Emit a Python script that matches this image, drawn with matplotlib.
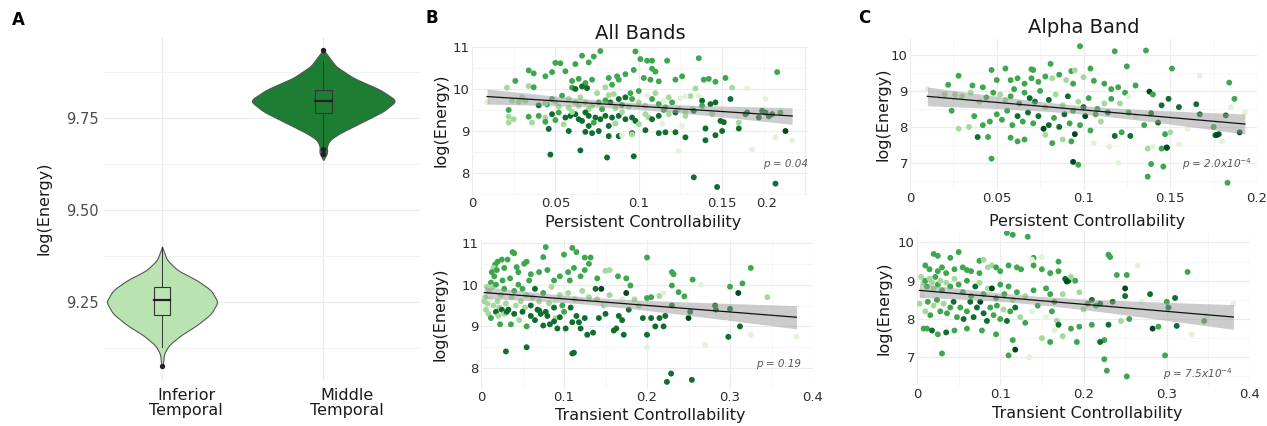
import numpy as np
import matplotlib
matplotlib.use("Agg")
import matplotlib.pyplot as plt
from matplotlib import transforms

plt.rcParams['font.family'] = ['DejaVu Sans']

# ---------------- data ----------------
# Panel A: violin outlines (log energy level, half width in category units)
inf_levels = [9.400, 9.364, 9.336, 9.309, 9.282, 9.250, 9.218, 9.186, 9.159, 9.132, 9.109, 9.082, 9.073]
inf_halfw = [0.0, 0.031, 0.097, 0.217, 0.304, 0.346, 0.304, 0.213, 0.114, 0.041, 0.012, 0.006, 0.0]
mid_levels = [9.936, 9.918, 9.891, 9.859, 9.827, 9.800, 9.795, 9.768, 9.736, 9.709, 9.691, 9.673, 9.655, 9.636]
mid_halfw = [0.0, 0.031, 0.077, 0.186, 0.352, 0.445, 0.449, 0.373, 0.228, 0.104, 0.041, 0.021, 0.025, 0.0]
# box stats: whisker low, q1, median, q3, whisker high
inf_box = [9.127, 9.214, 9.255, 9.291, 9.400]
mid_box = [9.655, 9.764, 9.795, 9.825, 9.905]
inf_outliers = [9.075]
mid_outliers = [9.936, 9.665, 9.652]
regions = ["Inferior\nTemporal", "Middle\nTemporal"]

# Panel B top: persistent controllability vs log energy (all bands), shade level
bt = [
    (0.077, 10.90, 2), (0.098, 10.89, 2), (0.073, 10.77, 2), (0.066, 10.79, 2), (0.101, 10.71, 2),
    (0.105, 10.67, 2), (0.108, 10.67, 2), (0.117, 10.67, 2), (0.136, 10.73, 2), (0.070, 10.63, 2),
    (0.050, 10.62, 2), (0.053, 10.61, 2), (0.062, 10.59, 2), (0.034, 10.44, 2), (0.037, 10.37, 2),
    (0.056, 10.42, 2), (0.048, 10.40, 2), (0.044, 10.30, 2), (0.097, 10.45, 2), (0.108, 10.48, 2),
    (0.092, 10.35, 2), (0.087, 10.30, 2), (0.026, 10.19, 2), (0.021, 10.03, 1), (0.034, 10.07, 1),
    (0.037, 10.04, 2), (0.060, 10.19, 2), (0.064, 10.24, 2), (0.068, 10.14, 2), (0.072, 10.22, 2),
    (0.060, 10.03, 2), (0.066, 10.06, 3), (0.069, 10.02, 3), (0.062, 10.00, 3), (0.082, 10.26, 2),
    (0.084, 10.10, 2), (0.088, 10.22, 2), (0.080, 10.04, 1), (0.103, 10.26, 2), (0.107, 10.22, 2),
    (0.110, 10.41, 2), (0.112, 10.18, 2), (0.122, 10.22, 2), (0.126, 10.30, 2), (0.139, 10.22, 2),
    (0.142, 10.24, 2), (0.152, 10.26, 2), (0.146, 10.17, 2), (0.156, 10.03, 1), (0.165, 10.01, 0),
    (0.183, 10.40, 2), (0.134, 10.01, 1), (0.131, 9.83, 1), (0.128, 9.83, 0), (0.136, 9.83, 0),
    (0.176, 9.76, 0), (0.009, 9.68, 0),
    (0.024, 9.72, 1), (0.028, 9.69, 1), (0.032, 9.72, 1), (0.022, 9.50, 2), (0.040, 9.61, 3),
    (0.045, 9.63, 2), (0.048, 9.76, 2), (0.054, 9.84, 2), (0.058, 9.76, 1), (0.062, 9.68, 1),
    (0.064, 9.60, 1), (0.068, 9.68, 1), (0.072, 9.60, 1), (0.076, 9.68, 2), (0.080, 9.73, 2),
    (0.083, 9.68, 3), (0.088, 9.76, 3), (0.092, 9.80, 3), (0.096, 9.76, 2), (0.100, 9.68, 1),
    (0.104, 9.60, 1), (0.108, 9.76, 2), (0.112, 9.64, 2), (0.116, 9.56, 2), (0.120, 9.68, 2),
    (0.124, 9.52, 1), (0.128, 9.45, 1), (0.132, 9.52, 1), (0.138, 9.72, 3), (0.143, 9.64, 3),
    (0.146, 9.68, 3), (0.155, 9.76, 3), (0.165, 9.44, 3), (0.174, 9.48, 3), (0.176, 9.44, 3),
    (0.180, 9.40, 3), (0.185, 9.44, 2), (0.058, 9.55, 1), (0.052, 9.58, 1), (0.070, 9.52, 1),
    (0.086, 9.54, 1), (0.095, 9.90, 2), (0.100, 9.95, 2), (0.075, 9.90, 1), (0.085, 9.88, 1),
    (0.110, 9.90, 1), (0.118, 9.80, 1), (0.065, 9.80, 1), (0.090, 9.62, 2), (0.094, 9.58, 1),
    (0.078, 9.52, 2), (0.082, 9.85, 1), (0.105, 9.85, 0), (0.115, 9.72, 0), (0.125, 9.78, 0),
    (0.030, 9.80, 1), (0.044, 9.66, 1), (0.050, 9.70, 1),
    (0.040, 9.36, 2), (0.044, 9.32, 1), (0.048, 9.40, 3), (0.052, 9.44, 2), (0.056, 9.32, 3),
    (0.059, 9.36, 3), (0.062, 9.40, 3), (0.064, 9.28, 3), (0.066, 9.24, 3), (0.068, 9.44, 3),
    (0.070, 9.36, 3), (0.074, 9.32, 3), (0.077, 9.28, 3), (0.080, 9.36, 3), (0.084, 9.32, 3),
    (0.088, 9.36, 3), (0.092, 9.28, 3), (0.096, 9.32, 3), (0.098, 9.24, 3), (0.104, 9.40, 1),
    (0.106, 9.32, 1), (0.108, 9.28, 3), (0.112, 9.36, 3), (0.118, 9.40, 1), (0.122, 9.44, 3),
    (0.128, 9.36, 1), (0.133, 9.48, 3), (0.138, 9.60, 2), (0.144, 9.40, 1), (0.149, 9.24, 3),
    (0.151, 9.21, 3), (0.164, 9.40, 3), (0.172, 9.32, 3), (0.178, 9.35, 3), (0.022, 9.34, 1),
    (0.025, 9.28, 1), (0.022, 9.20, 1), (0.034, 9.34, 2), (0.036, 9.20, 1), (0.044, 9.22, 2),
    (0.050, 9.26, 2), (0.055, 9.16, 1), (0.073, 9.20, 2), (0.086, 9.18, 1), (0.100, 9.16, 1),
    (0.114, 9.18, 0), (0.126, 9.12, 0), (0.140, 9.08, 0), (0.160, 9.20, 1), (0.060, 9.45, 1),
    (0.090, 9.45, 1), (0.115, 9.50, 2), (0.070, 9.12, 3), (0.082, 9.12, 3),
    (0.046, 9.05, 3), (0.058, 9.00, 3), (0.068, 8.98, 3), (0.072, 8.95, 3), (0.076, 9.00, 3),
    (0.082, 8.88, 3), (0.088, 8.88, 3), (0.096, 8.95, 3), (0.104, 9.02, 3), (0.112, 8.95, 3),
    (0.116, 8.97, 3), (0.122, 8.97, 3), (0.128, 8.85, 3), (0.140, 9.06, 3), (0.146, 8.90, 3),
    (0.150, 9.00, 3), (0.160, 9.06, 3), (0.188, 9.00, 4), (0.182, 8.85, 0), (0.192, 8.78, 0),
    (0.090, 8.90, 0), (0.096, 8.92, 1), (0.124, 8.52, 0), (0.140, 8.78, 3), (0.168, 8.56, 0),
    (0.047, 8.44, 3), (0.065, 8.54, 3), (0.081, 8.37, 3), (0.097, 8.40, 3), (0.133, 7.90, 3),
    (0.147, 7.67, 3), (0.182, 7.75, 3),
]

# Panel B bottom: transient controllability vs log energy (all bands)
bb = [
    (0.038, 10.78, 2), (0.040, 10.75, 2), (0.078, 10.90, 2), (0.075, 10.66, 2), (0.110, 10.88, 2),
    (0.115, 10.78, 2), (0.100, 10.72, 2), (0.125, 10.65, 2), (0.132, 10.65, 2), (0.055, 10.55, 2),
    (0.052, 10.50, 2), (0.043, 10.42, 2), (0.028, 10.40, 2), (0.020, 10.55, 2), (0.017, 10.48, 2),
    (0.025, 10.60, 2), (0.032, 10.60, 2), (0.015, 10.40, 1), (0.045, 10.30, 2), (0.060, 10.25, 2),
    (0.070, 10.30, 2), (0.080, 10.35, 2), (0.088, 10.10, 2), (0.095, 10.20, 2), (0.105, 10.30, 2),
    (0.107, 10.10, 2), (0.112, 10.40, 2), (0.120, 10.20, 2), (0.125, 10.35, 2), (0.130, 10.50, 2),
    (0.140, 10.15, 2), (0.150, 10.33, 1), (0.155, 10.35, 1), (0.165, 10.20, 2), (0.175, 10.15, 2),
    (0.180, 9.98, 2), (0.200, 10.65, 2), (0.230, 10.30, 2), (0.232, 10.25, 2), (0.255, 10.12, 2),
    (0.265, 10.00, 0), (0.300, 9.95, 2), (0.315, 10.03, 2), (0.325, 10.40, 2), (0.230, 9.98, 2),
    (0.238, 9.82, 2), (0.245, 9.72, 2), (0.200, 9.68, 2), (0.205, 9.70, 2), (0.215, 9.73, 1),
    (0.220, 9.80, 0),
    (0.005, 9.70, 1), (0.008, 9.55, 1), (0.010, 9.85, 1), (0.012, 10.05, 2), (0.014, 9.95, 1),
    (0.016, 10.20, 2), (0.018, 10.00, 2), (0.020, 9.60, 1), (0.022, 9.45, 1), (0.024, 9.75, 1),
    (0.026, 10.10, 2), (0.028, 9.90, 2), (0.030, 9.55, 1), (0.033, 9.40, 3), (0.035, 10.15, 2),
    (0.037, 9.70, 1), (0.040, 9.85, 2), (0.042, 9.50, 1), (0.045, 10.00, 2), (0.048, 9.60, 1),
    (0.050, 9.90, 2), (0.053, 9.45, 1), (0.055, 9.75, 1), (0.058, 10.10, 2), (0.006, 9.40, 1),
    (0.009, 9.30, 1), (0.012, 9.20, 2), (0.015, 9.50, 1), (0.018, 9.35, 3), (0.021, 9.25, 1),
    (0.025, 9.40, 3), (0.028, 9.30, 1), (0.004, 9.60, 1), (0.007, 9.95, 1), (0.011, 9.65, 0),
    (0.013, 10.30, 2), (0.019, 10.35, 2), (0.023, 9.05, 2), (0.031, 9.35, 3), (0.036, 9.05, 2),
    (0.040, 9.30, 3), (0.046, 9.15, 1), (0.050, 9.35, 3), (0.055, 9.00, 2), (0.060, 9.50, 3),
    (0.062, 9.70, 1), (0.065, 9.90, 3), (0.068, 9.40, 3), (0.070, 9.60, 1), (0.072, 9.30, 3),
    (0.075, 9.80, 2), (0.078, 9.35, 3), (0.080, 9.25, 3), (0.082, 9.55, 1), (0.085, 9.95, 1),
    (0.088, 9.45, 3), (0.090, 9.20, 1), (0.092, 8.95, 3), (0.095, 9.75, 1), (0.098, 9.50, 2),
    (0.100, 9.35, 2), (0.102, 8.95, 3), (0.105, 9.80, 1), (0.108, 9.45, 3), (0.110, 9.10, 3),
    (0.113, 9.65, 1), (0.115, 9.25, 3), (0.118, 9.10, 3), (0.120, 8.95, 3), (0.122, 9.85, 1),
    (0.125, 9.20, 3), (0.128, 8.80, 3), (0.130, 9.70, 1), (0.135, 8.85, 3), (0.138, 9.90, 3),
    (0.140, 9.65, 1), (0.142, 9.20, 3), (0.145, 9.90, 4), (0.148, 9.50, 1), (0.150, 9.30, 3),
    (0.155, 9.75, 1), (0.160, 8.90, 3), (0.163, 8.95, 3), (0.166, 9.25, 3), (0.170, 9.15, 3),
    (0.172, 8.80, 3), (0.175, 9.80, 4), (0.178, 9.40, 3), (0.185, 9.65, 1), (0.190, 9.50, 1),
    (0.195, 9.20, 3), (0.200, 8.80, 3), (0.200, 8.50, 0), (0.205, 9.20, 3), (0.210, 9.00, 3),
    (0.215, 9.20, 3), (0.220, 9.00, 3), (0.222, 9.25, 3), (0.230, 9.50, 3), (0.250, 9.20, 4),
    (0.252, 9.35, 3), (0.270, 8.55, 0), (0.282, 9.50, 3), (0.283, 9.40, 3), (0.298, 8.75, 3),
    (0.300, 9.42, 3), (0.310, 9.80, 4), (0.312, 9.00, 3), (0.325, 8.80, 0), (0.345, 9.70, 1),
    (0.380, 8.75, 0), (0.030, 8.40, 3), (0.055, 8.50, 3), (0.110, 8.35, 3), (0.112, 8.37, 3),
    (0.224, 7.67, 3), (0.229, 7.87, 3), (0.254, 7.72, 3),
    (0.060, 9.25, 3), (0.065, 9.15, 3), (0.070, 9.38, 3), (0.075, 9.02, 3), (0.083, 9.05, 3),
    (0.088, 9.12, 3), (0.095, 9.22, 3), (0.090, 9.60, 0), (0.120, 9.60, 0), (0.150, 9.55, 0),
    (0.170, 9.65, 0),
]

# Panel C top: persistent controllability vs log energy (alpha band)
ct = [
    (0.098, 10.24, 2), (0.118, 10.10, 2), (0.136, 10.12, 2), (0.093, 9.55, 2), (0.055, 9.62, 2),
    (0.047, 9.58, 2), (0.071, 9.58, 2), (0.081, 9.75, 2), (0.070, 9.60, 2), (0.095, 9.57, 1),
    (0.104, 9.62, 2), (0.125, 9.68, 2), (0.151, 9.62, 2), (0.022, 9.17, 2), (0.028, 9.42, 2),
    (0.036, 9.15, 2), (0.042, 9.10, 2), (0.050, 9.30, 2), (0.058, 9.30, 2), (0.062, 9.35, 2),
    (0.066, 9.20, 2), (0.070, 9.35, 2), (0.074, 9.25, 2), (0.078, 9.40, 2), (0.082, 9.35, 1),
    (0.086, 9.45, 2), (0.090, 9.30, 1), (0.094, 9.20, 2), (0.100, 9.38, 1), (0.106, 9.28, 2),
    (0.112, 9.20, 2), (0.116, 9.05, 2), (0.120, 9.10, 2), (0.124, 8.95, 2), (0.130, 9.15, 2),
    (0.138, 8.98, 4), (0.140, 8.90, 2), (0.149, 8.78, 3), (0.165, 8.63, 3), (0.167, 9.42, 0),
    (0.184, 9.23, 2), (0.187, 8.78, 2), (0.030, 8.85, 1), (0.035, 8.95, 1), (0.040, 8.70, 1),
    (0.044, 8.82, 2), (0.048, 8.95, 2), (0.052, 8.90, 1), (0.055, 8.75, 1), (0.058, 8.85, 2),
    (0.060, 9.05, 2), (0.063, 8.65, 2), (0.066, 8.95, 2), (0.069, 8.80, 3), (0.072, 8.70, 3),
    (0.075, 9.00, 2), (0.078, 8.55, 1), (0.080, 8.75, 3), (0.084, 8.90, 1), (0.088, 8.60, 1),
    (0.091, 8.85, 3), (0.094, 8.45, 2), (0.097, 8.70, 1), (0.100, 8.55, 3), (0.103, 8.80, 2),
    (0.108, 8.50, 2), (0.112, 8.65, 1), (0.116, 8.78, 2), (0.121, 8.65, 1), (0.126, 8.85, 0),
    (0.145, 8.60, 3), (0.155, 8.55, 3), (0.167, 8.35, 3), (0.182, 8.32, 3), (0.175, 8.00, 2),
    (0.178, 7.80, 3), (0.176, 7.77, 3), (0.190, 7.85, 4), (0.177, 7.78, 4), (0.024, 8.45, 2),
    (0.034, 8.00, 1), (0.037, 8.30, 2), (0.042, 8.05, 2), (0.046, 8.15, 2), (0.050, 8.35, 2),
    (0.053, 8.20, 2), (0.056, 8.45, 2), (0.059, 8.05, 2), (0.062, 8.30, 3), (0.065, 8.15, 2),
    (0.068, 8.40, 3), (0.071, 8.10, 2), (0.074, 8.30, 3), (0.077, 7.95, 4), (0.080, 8.05, 3),
    (0.083, 8.25, 2), (0.086, 8.00, 3), (0.089, 8.35, 3), (0.092, 8.10, 2), (0.095, 7.80, 4),
    (0.098, 8.05, 2), (0.101, 8.30, 4), (0.104, 7.90, 2), (0.107, 8.35, 2), (0.110, 8.15, 1),
    (0.114, 8.40, 3), (0.118, 7.75, 3), (0.122, 7.85, 2), (0.126, 8.40, 2), (0.130, 8.30, 0),
    (0.135, 8.05, 2), (0.139, 8.38, 3), (0.143, 8.12, 3), (0.147, 7.80, 2), (0.150, 7.85, 1),
    (0.155, 7.52, 0), (0.160, 7.95, 0), (0.039, 7.72, 3), (0.045, 7.72, 2), (0.058, 7.70, 2),
    (0.062, 7.60, 2), (0.066, 7.65, 2), (0.078, 7.78, 1), (0.082, 7.55, 2), (0.088, 7.65, 1),
    (0.093, 7.60, 2), (0.106, 7.55, 0), (0.115, 7.45, 0), (0.127, 7.75, 3), (0.137, 7.40, 1),
    (0.140, 7.45, 0), (0.145, 7.40, 2), (0.148, 7.42, 3), (0.047, 7.12, 2), (0.094, 7.03, 4),
    (0.097, 6.95, 2), (0.137, 6.62, 2), (0.139, 6.97, 2), (0.146, 6.90, 2), (0.148, 7.43, 4),
    (0.183, 6.45, 2), (0.120, 7.00, 0), (0.180, 7.60, 0), (0.185, 8.55, 0), (0.193, 8.40, 0),
    (0.010, 9.05, 0), (0.020, 8.90, 1), (0.026, 8.90, 1), (0.028, 7.95, 1), (0.017, 8.85, 0),
]

# Panel C bottom: transient controllability vs log energy (alpha band)
cb = [
    (0.108, 10.25, 2), (0.115, 10.20, 2), (0.133, 10.15, 2), (0.050, 9.75, 2), (0.020, 9.70, 2),
    (0.025, 9.65, 2), (0.040, 9.60, 2), (0.075, 9.52, 2), (0.080, 9.55, 1), (0.140, 9.60, 2),
    (0.150, 9.62, 0), (0.230, 9.68, 2), (0.232, 9.62, 2), (0.010, 9.40, 2), (0.015, 9.30, 2),
    (0.025, 9.25, 2), (0.030, 9.35, 2), (0.035, 9.20, 2), (0.045, 9.30, 2), (0.055, 9.35, 2),
    (0.060, 9.28, 2), (0.065, 9.25, 2), (0.075, 9.20, 2), (0.085, 9.35, 1), (0.090, 9.40, 1),
    (0.095, 9.35, 2), (0.100, 9.25, 2), (0.110, 9.40, 2), (0.120, 9.35, 2), (0.125, 9.30, 2),
    (0.140, 9.40, 2), (0.150, 9.30, 2), (0.160, 9.20, 2), (0.170, 9.25, 2), (0.178, 9.05, 3),
    (0.182, 9.00, 3), (0.185, 9.10, 1), (0.190, 9.00, 2), (0.240, 9.15, 2), (0.252, 9.15, 2),
    (0.265, 9.40, 0), (0.325, 9.23, 2), (0.005, 9.10, 1), (0.008, 8.95, 1), (0.010, 9.00, 2),
    (0.012, 8.85, 2), (0.015, 9.05, 1), (0.018, 8.95, 1), (0.020, 8.80, 1), (0.022, 9.10, 2),
    (0.025, 8.90, 2), (0.028, 9.00, 1), (0.030, 8.75, 2), (0.035, 8.95, 1), (0.040, 8.85, 2),
    (0.045, 9.05, 1), (0.050, 8.90, 2), (0.055, 8.70, 2), (0.060, 9.00, 2), (0.065, 8.60, 2),
    (0.070, 8.85, 3), (0.075, 8.95, 1), (0.080, 8.65, 2), (0.085, 8.80, 1), (0.090, 8.80, 4),
    (0.095, 8.55, 2), (0.100, 8.90, 2), (0.105, 8.65, 2), (0.110, 8.85, 2), (0.115, 8.50, 1),
    (0.120, 8.70, 2), (0.130, 8.60, 1), (0.140, 8.75, 2), (0.155, 8.80, 2), (0.160, 8.65, 2),
    (0.165, 8.45, 2), (0.175, 8.65, 1), (0.180, 8.98, 4), (0.195, 8.70, 1), (0.205, 8.40, 2),
    (0.210, 8.50, 3), (0.215, 8.35, 2), (0.220, 8.40, 3), (0.235, 8.45, 3), (0.250, 8.80, 4),
    (0.250, 8.60, 3), (0.280, 8.65, 3), (0.300, 8.45, 2), (0.302, 8.30, 3), (0.310, 8.55, 3),
    (0.003, 8.40, 1), (0.006, 8.60, 0), (0.010, 8.20, 1), (0.013, 8.45, 2), (0.016, 8.10, 2),
    (0.020, 8.35, 1), (0.024, 8.50, 2), (0.028, 8.20, 2), (0.032, 8.40, 1), (0.036, 8.15, 2),
    (0.040, 8.30, 2), (0.044, 8.45, 3), (0.048, 8.05, 2), (0.052, 8.30, 2), (0.056, 8.00, 3),
    (0.060, 8.20, 2), (0.064, 8.45, 3), (0.068, 8.05, 3), (0.072, 8.30, 3), (0.076, 8.45, 4),
    (0.080, 8.15, 3), (0.084, 7.95, 3), (0.088, 8.30, 2), (0.092, 8.10, 2), (0.096, 8.35, 2),
    (0.100, 8.00, 2), (0.104, 8.25, 1), (0.108, 7.95, 3), (0.112, 8.20, 2), (0.118, 8.30, 3),
    (0.124, 8.05, 1), (0.130, 7.90, 2), (0.138, 8.20, 0), (0.145, 8.35, 2), (0.155, 8.05, 0),
    (0.162, 8.20, 2), (0.168, 7.95, 1), (0.170, 7.85, 3), (0.185, 7.75, 2), (0.195, 7.80, 2),
    (0.200, 8.25, 1), (0.210, 7.85, 2), (0.225, 7.45, 2), (0.230, 7.85, 3), (0.245, 7.95, 1),
    (0.255, 8.00, 2), (0.290, 7.80, 2), (0.283, 7.75, 4), (0.312, 7.82, 3), (0.345, 7.95, 2),
    (0.008, 7.75, 2), (0.012, 7.75, 2), (0.018, 7.70, 3), (0.025, 7.60, 2), (0.035, 7.65, 3),
    (0.045, 7.70, 2), (0.060, 7.75, 2), (0.078, 7.70, 2), (0.095, 7.60, 2), (0.115, 7.45, 2),
    (0.150, 7.50, 1), (0.160, 7.40, 2), (0.175, 7.55, 1), (0.192, 7.40, 2), (0.218, 7.45, 0),
    (0.220, 7.40, 3), (0.165, 7.70, 0), (0.030, 7.10, 2), (0.110, 7.05, 2), (0.118, 7.20, 4),
    (0.135, 7.00, 0), (0.225, 6.95, 2), (0.228, 6.65, 2), (0.252, 6.50, 2), (0.298, 7.05, 2),
    (0.330, 7.60, 0), (0.380, 8.40, 0), (0.348, 8.10, 0), (0.138, 9.55, 0), (0.170, 9.50, 2),
    (0.270, 8.45, 0),
]

p_labels = ["p = 0.04", "p = 0.19", "p = 2.0x10$^{-4}$", "p = 7.5x10$^{-4}$"]

shades = ['#e2f3dc', '#a3da9b', '#3ea64e', '#0f6e2e', '#04461d']

# ---------------- figure ----------------
fig = plt.figure(figsize=(12.67, 4.26), dpi=100)
W, H = 1267, 426


def px_axes(left, top, right, bottom):
    return fig.add_axes([left / W, (H - bottom) / H, (right - left) / W, (bottom - top) / H])


def clean(ax):
    for s in ax.spines.values():
        s.set_visible(False)
    ax.tick_params(which='both', length=0)
    ax.set_axisbelow(True)


# ---------- Panel A ----------
axA = px_axes(104, 37, 420, 380)
clean(axA)
axA.set_xlim(0.64, 2.6)
axA.set_ylim(9.038, 9.97)
axA.set_yticks([9.25, 9.50, 9.75])
axA.set_yticklabels(['9.25', '9.50', '9.75'])
axA.set_yticks([9.125, 9.375, 9.625, 9.875], minor=True)
axA.set_xticks([1, 2])
axA.set_xticklabels(regions, linespacing=0.95)
axA.grid(True, which='major', color='#ebebeb', lw=0.9)
axA.grid(True, which='minor', axis='y', color='#f3f3f3', lw=0.8)
axA.tick_params(axis='y', labelsize=10.5, labelcolor='#4d4d4d', pad=4)
axA.tick_params(axis='x', labelsize=11.5, labelcolor='#1a1a1a', pad=6)
for lab in axA.get_xticklabels():
    lab.set_transform(lab.get_transform() + transforms.ScaledTranslation(0.24, 0, fig.dpi_scale_trans))
axA.set_ylabel('log(Energy)', fontsize=11.5, color='#1a1a1a')
axA.yaxis.set_label_coords(-0.165, 0.5)

violins = [(1, inf_levels, inf_halfw, inf_box, inf_outliers, '#b9e4b2'),
           (2, mid_levels, mid_halfw, mid_box, mid_outliers, '#1d7d33')]
for pos, lev, hw, box, outl, col in violins:
    lev = np.array(lev)
    hw = np.array(hw)
    yy = np.linspace(lev.min(), lev.max(), 300)
    ww = np.interp(yy, lev[::-1], hw[::-1])
    k = np.ones(15) / 15
    ww = np.convolve(np.pad(ww, 7, mode='edge'), k, mode='valid')
    ww[0] = ww[-1] = 0
    axA.fill_betweenx(yy, pos - ww, pos + ww, facecolor=col, edgecolor='#555555', lw=0.8, zorder=2)
    lo, q1, med, q3, hi = box
    bw = 0.052
    axA.plot([pos, pos], [lo, q1], color='#333333', lw=0.7, zorder=3)
    axA.plot([pos, pos], [q3, hi], color='#333333', lw=0.7, zorder=3)
    axA.add_patch(plt.Rectangle((pos - bw, q1), 2 * bw, q3 - q1, facecolor='none',
                                edgecolor='#333333', lw=0.8, zorder=3))
    axA.plot([pos - bw, pos + bw], [med, med], color='#222222', lw=1.6, zorder=4)
    axA.scatter([pos] * len(outl), outl, s=8, color='#222222', zorder=4)

fig.text(18 / W, 1 - 20 / H, 'A', fontsize=12, fontweight='bold', ha='center', va='center')
fig.text(432 / W, 1 - 18 / H, 'B', fontsize=12, fontweight='bold', ha='center', va='center')
fig.text(864 / W, 1 - 18 / H, 'C', fontsize=12, fontweight='bold', ha='center', va='center')


# ---------- scatter panels ----------
def scatter_panel(ax, pts, xlim, ylim, xmaj, xmin, ymaj, ymin, xlabel, ptext, ptxt_xy, xlabel_y):
    clean(ax)
    x = np.array([p[0] for p in pts])
    y = np.array([p[1] for p in pts])
    c = [shades[p[2]] for p in pts]
    ax.set_xlim(*xlim)
    ax.set_ylim(*ylim)
    ax.set_xticks(xmaj)
    ax.set_xticks(xmin, minor=True)
    ax.set_yticks(ymaj)
    ax.set_yticks(ymin, minor=True)
    ax.grid(True, which='major', color='#ececec', lw=0.8)
    ax.grid(True, which='minor', color='#f5f5f5', lw=0.7)
    ax.tick_params(labelsize=9.5, labelcolor='#2b2b2b', pad=1.5)
    ax.scatter(x, y, s=18, c=c, edgecolors='none', zorder=2)
    # linear fit with 95% confidence band
    slope, icpt = np.polyfit(x, y, 1)
    xs = np.linspace(x.min(), x.max(), 100)
    fit = icpt + slope * xs
    resid = y - (icpt + slope * x)
    n = len(x)
    s_err = np.sqrt(np.sum(resid ** 2) / (n - 2))
    ci = 1.97 * s_err * np.sqrt(1 / n + (xs - x.mean()) ** 2 / np.sum((x - x.mean()) ** 2))
    ax.fill_between(xs, fit - ci, fit + ci, color='#9a9a9a', alpha=0.5, lw=0, zorder=3)
    ax.plot(xs, fit, color='#111111', lw=0.9, zorder=4)
    ax.text(ptxt_xy[0], ptxt_xy[1], ptext, transform=ax.transAxes, ha='right', va='center',
            fontsize=7.5, style='italic', color='#555555', zorder=5)
    ax.text(0.51, xlabel_y, xlabel, transform=ax.transAxes, ha='center', va='center',
            fontsize=11.5, color='#1a1a1a')
    ax.set_ylabel('log(Energy)', fontsize=11.5, color='#1a1a1a')


plt.rcParams['mathtext.default'] = 'it'

# B top
axBt = px_axes(472, 46, 808, 195)
scatter_panel(axBt, bt, (0, 0.2015), (7.48, 11.02), [0, 0.05, 0.1, 0.15, 0.2],
              np.arange(0.025, 0.2, 0.05), [8, 9, 10, 11], [7.5, 8.5, 9.5, 10.5],
              'Persistent Controllability', p_labels[0], (1.0, 0.21), -0.185)
axBt.set_xticklabels(['0', '0.05', '0.1', '0.15', '0.2'])
lab = axBt.get_xticklabels()[-1]
lab.set_transform(lab.get_transform() + transforms.ScaledTranslation(-0.39, 0, fig.dpi_scale_trans))
axBt.yaxis.set_label_coords(-0.07, 0.5)
axBt.set_title('All Bands', fontsize=14, pad=5, color='#1a1a1a')

# B bottom
axBb = px_axes(481, 240, 813, 389)
scatter_panel(axBb, bb, (0, 0.4), (7.51, 11.07), [0, 0.1, 0.2, 0.3, 0.4],
              [0.05, 0.15, 0.25, 0.35], [8, 9, 10, 11], [7.5, 8.5, 9.5, 10.5],
              'Transient Controllability', p_labels[1], (0.965, 0.17), -0.175)
axBb.set_xticklabels(['0', '0.1', '0.2', '0.3', '0.4'])
axBb.yaxis.set_label_coords(-0.1, 0.5)

# C top
axCt = px_axes(910, 39, 1257, 190)
scatter_panel(axCt, ct, (0, 0.2), (6.25, 10.44), [0, 0.05, 0.1, 0.15, 0.2],
              np.arange(0.025, 0.2, 0.05), [7, 8, 9, 10], [6.5, 7.5, 8.5, 9.5],
              'Persistent Controllability', p_labels[2], (0.985, 0.17), -0.21)
axCt.set_xticklabels(['0', '0.05', '0.1', '0.15', '0.2'])
axCt.yaxis.set_label_coords(-0.055, 0.5)
axCt.set_title('Alpha Band', fontsize=14, pad=4, color='#1a1a1a')

# C bottom
axCb = px_axes(917, 231, 1250, 386)
scatter_panel(axCb, cb, (0, 0.4), (6.25, 10.3), [0, 0.1, 0.2, 0.3, 0.4],
              [0.05, 0.15, 0.25, 0.35], [7, 8, 9, 10], [6.5, 7.5, 8.5, 9.5],
              'Transient Controllability', p_labels[3], (0.95, 0.08), -0.175)
axCb.set_xticklabels(['0', '0.1', '0.2', '0.3', '0.4'])
axCb.yaxis.set_label_coords(-0.078, 0.5)

fig.savefig('out.png', dpi=100)
